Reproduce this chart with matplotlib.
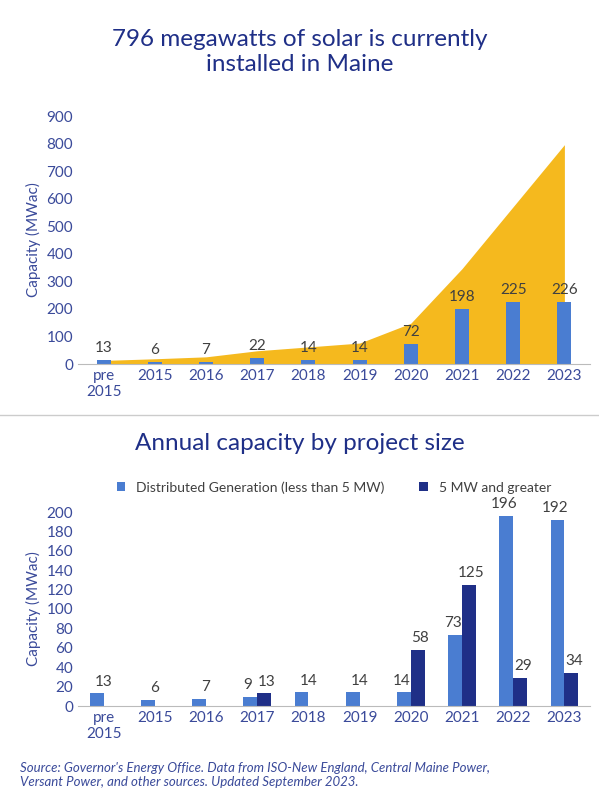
import matplotlib
matplotlib.use('Agg')
import matplotlib.pyplot as plt
import numpy as np

plt.rcParams['font.family'] = ['Lato', 'DejaVu Sans']

years = ['pre\n2015', '2015', '2016', '2017', '2018', '2019', '2020', '2021', '2022', '2023']
annual = [13, 6, 7, 22, 14, 14, 72, 198, 225, 226]
cumulative = [13, 19, 26, 48, 62, 76, 148, 346, 571, 796]
dist_gen = [13, 6, 7, 9, 14, 14, 14, 73, 196, 192]
large = [0, 0, 0, 13, 0, 0, 58, 125, 29, 34]

BLUE = '#4A7DD1'
NAVY = '#1F2F87'
GOLD = '#F5B91E'
TXT = '#404040'
AX = '#3A4A9A'

W, H = 599, 798
fig = plt.figure(figsize=(W / 100, H / 100), dpi=100)


def box(l, t, r, b):
    return [l / W, 1 - b / H, (r - l) / W, (b - t) / H]


x = np.arange(len(years))

# top chart
fig.text(0.5, 1 - 52 / H, '796 megawatts of solar is currently\ninstalled in Maine',
         ha='center', va='center', fontsize=17.5, color=NAVY, linespacing=1.2)
ax1 = fig.add_axes(box(78, 116, 590, 364))
ax1.fill_between(x, cumulative, color=GOLD, lw=0)
ax1.bar(x, annual, width=0.27, color=BLUE)
for xi, v in zip(x, annual):
    ax1.text(xi, v + 18, str(v), ha='center', va='bottom', fontsize=11, color=TXT)
ax1.set_ylim(0, 900)
ax1.set_yticks(range(0, 901, 100))
ax1.set_xlim(-0.5, 9.5)
ax1.set_xticks(x, years)
ax1.set_ylabel('Capacity (MWac)', color=AX, fontsize=11)

# divider
fig.add_artist(plt.Line2D([0, 1], [1 - 415 / H] * 2, color='#cccccc', lw=1))

# bottom chart
fig.text(0.5, 1 - 443 / H, 'Annual capacity by project size',
         ha='center', va='center', fontsize=17.5, color=NAVY)
ax2 = fig.add_axes(box(78, 512, 590, 706))
w = 0.27
ax2.bar(x - w / 2, dist_gen, width=w, color=BLUE, label='Distributed Generation (less than 5 MW)')
ax2.bar(x + w / 2, large, width=w, color=NAVY, label='5 MW and greater')
for xi, a, b in zip(x, dist_gen, large):
    if b == 0:
        ax2.text(xi, a + 5, str(a), ha='center', va='bottom', fontsize=11, color=TXT)
    else:
        ax2.text(xi - w / 2 - 0.05, a + 5, str(a), ha='center', va='bottom', fontsize=11, color=TXT)
        ax2.text(xi + w / 2 + 0.05, b + 5, str(b), ha='center', va='bottom', fontsize=11, color=TXT)
ax2.set_ylim(0, 200)
ax2.set_yticks(range(0, 201, 20))
ax2.set_xlim(-0.5, 9.5)
ax2.set_xticks(x, years)
ax2.set_ylabel('Capacity (MWac)', color=AX, fontsize=11)
ax2.legend(loc='lower center', bbox_to_anchor=(0.5, 1.03), ncol=2, frameon=False,
           fontsize=10, handlelength=0.6, handleheight=0.6, columnspacing=2.5,
           labelcolor=TXT)

for ax in (ax1, ax2):
    for s in ('top', 'right', 'left'):
        ax.spines[s].set_visible(False)
    ax.spines['bottom'].set_color('#bbbbbb')
    ax.tick_params(axis='y', length=0, labelsize=11, labelcolor=AX)
    ax.tick_params(axis='x', length=0, labelsize=11, labelcolor=AX)

fig.text(20 / W, 1 - 775 / H,
         "Source: Governor's Energy Office. Data from ISO-New England, Central Maine Power,\n"
         "Versant Power, and other sources. Updated September 2023.",
         ha='left', va='center', fontsize=9.5, style='italic', color=AX)

fig.savefig('out.png', dpi=100)
